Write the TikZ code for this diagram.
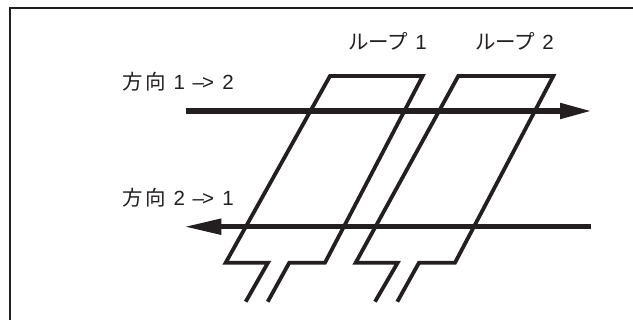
\documentclass[tikz,border=0pt]{standalone}
\usepackage{fontspec}
\setmainfont{Noto Sans CJK JP}
\newfontfamily\latinf{Liberation Sans}
\definecolor{ink}{HTML}{231F20}
\newcommand{\arrowtxt}{\hspace{7.5pt}–\kern-2pt>\hspace{8.5pt}}
\tikzset{
  x=1pt,y=-1pt,
  frameline/.style={line width=1.3pt,draw=ink},
  loopline/.style={line width=3.8pt,draw=ink,miter limit=10},
  beam/.style={line width=5.5pt,draw=ink},
  tip/.style={fill=ink,draw=none},
  lbl/.style={inner sep=0pt,anchor=base west,text=ink,font=\fontsize{20.5}{22}\selectfont},
}
\begin{document}
\begin{tikzpicture}
\useasboundingbox (0,0) rectangle (633,320);
\fill[white] (0,0) rectangle (633,320);
% frame
\coordinate (fa) at (10,320);
\coordinate (fb) at (10,8);
\coordinate (fc) at (633,8);
\draw[frameline] (fa) -- (fb) -- (fc);
% loop 1
\coordinate (a1) at (245.7,301.7);
\coordinate (a2) at (268,262.7);
\coordinate (a3) at (225.7,262.7);
\coordinate (a4) at (330,76);
\coordinate (a5) at (422.7,76);
\coordinate (a6) at (325,262.7);
\coordinate (a7) at (289.3,262.7);
\coordinate (a8) at (267.7,301.7);
\draw[loopline] (a1) -- (a2) -- (a3) -- (a4) -- (a5) -- (a6) -- (a7) -- (a8);
% loop 2
\coordinate (b1) at (375,301.7);
\coordinate (b2) at (397.7,262.7);
\coordinate (b3) at (355.7,262.7);
\coordinate (b4) at (458.3,76);
\coordinate (b5) at (553.3,76);
\coordinate (b6) at (455,262.7);
\coordinate (b7) at (419,262.7);
\coordinate (b8) at (397.3,301.7);
\draw[loopline] (b1) -- (b2) -- (b3) -- (b4) -- (b5) -- (b6) -- (b7) -- (b8);
% top arrow
\coordinate (s1) at (185.7,111);
\coordinate (h1) at (560,111);
\coordinate (t1) at (590,111);
\draw[beam] (s1) -- (h1);
\fill[tip] (t1) -- (560,102.7) -- (560,119.3) -- cycle;
% bottom arrow
\coordinate (s2) at (590.7,226.7);
\coordinate (h2) at (221.3,226.7);
\coordinate (t2) at (186,226.7);
\draw[beam] (s2) -- (h2);
\fill[tip] (t2) -- (221.3,218.4) -- (221.3,235) -- cycle;
% labels
\node[lbl] (l1) at (122.5,90) {方\kern2pt 向\hspace{8pt}{\latinf 1\arrowtxt 2}};
\node[lbl] (l2) at (122.5,205.7) {方\kern2pt 向\hspace{8pt}{\latinf 2\arrowtxt 1}};
\node[lbl] (l3) at (348,49.3) {ループ\hspace{7pt}{\latinf 1}};
\node[lbl] (l4) at (475,49.3) {ループ\hspace{7pt}{\latinf 2}};
\end{tikzpicture}
\end{document}
